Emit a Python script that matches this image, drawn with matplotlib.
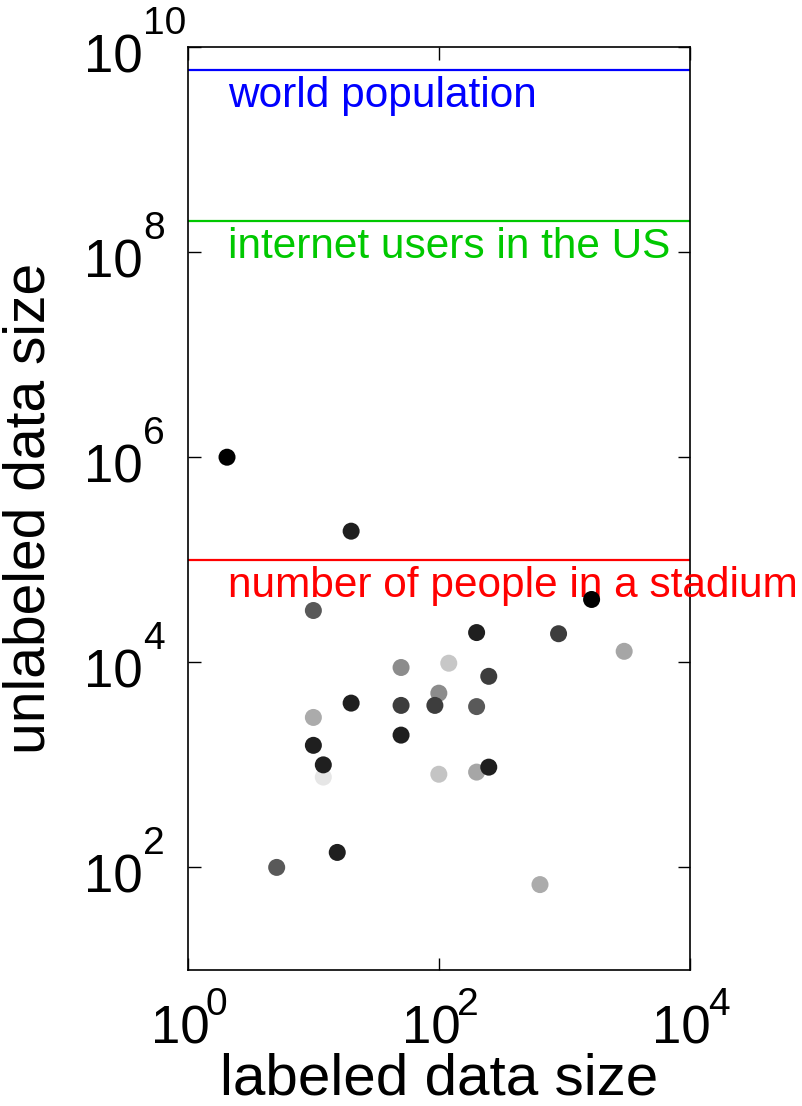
import numpy as np
import matplotlib.pyplot as plt
from matplotlib.ticker import FixedLocator, NullFormatter

plt.rcParams['font.family'] = ['Liberation Sans', 'DejaVu Sans']

# labeled / unlabeled data sizes of the datasets, and the grey level of each point
labeled = [2.05, 20, 1650, 10, 200, 900, 3000, 50, 120, 250, 100, 20, 50, 93, 200,
           10, 50, 10, 12, 12, 100, 200, 250, 15.5, 5.1, 640]
unlabeled = [1.0e6, 1.9e5, 4.1e4, 3.2e4, 1.95e4, 1.9e4, 1.28e4, 8.9e3, 9.8e3, 7.3e3, 5.0e3,
             4.0e3, 3.8e3, 3.8e3, 3.7e3, 2.9e3, 1.95e3, 1.55e3, 760, 1.0e3, 810, 850, 950,
             140, 100, 68]
grey = [0.0, 0.12, 0.0, 0.35, 0.12, 0.24, 0.65, 0.55, 0.78, 0.24, 0.55,
        0.12, 0.24, 0.24, 0.35, 0.67, 0.12, 0.12, 0.9, 0.12, 0.77, 0.65, 0.12,
        0.12, 0.35, 0.67]

# reference sizes drawn as horizontal lines
ref_values = [6e9, 2e8, 1e5]
ref_labels = ['world population', 'internet users in the US', 'number of people in a stadium']
ref_colors = ['#0000ff', '#00c800', '#ff0000']

xticks_exp = [0, 2, 4]
yticks_exp = [2, 4, 6, 8, 10]

fig = plt.figure(figsize=(8.03, 11.06), dpi=100)
ax = fig.add_axes([0.234, 0.123, 0.625, 0.8345])

for v, lab, c in zip(ref_values, ref_labels, ref_colors):
    ax.axhline(v, color=c, lw=1.6)
    ax.annotate(lab, xy=(2.08, v), xytext=(0, -37), textcoords='offset pixels',
                color=c, fontsize=30.5, va='baseline', ha='left', annotation_clip=False)

cols = [(g, g, g) for g in grey]
ax.scatter(labeled, unlabeled, s=150, c=cols, edgecolors='none', zorder=3)

ax.set_xscale('log')
ax.set_yscale('log')
ax.set_xlim(1, 1e4)
ax.set_ylim(10, 1e10)

ax.xaxis.set_major_locator(FixedLocator([10.0 ** e for e in xticks_exp]))
ax.yaxis.set_major_locator(FixedLocator([10.0 ** e for e in yticks_exp]))
ax.xaxis.set_minor_locator(FixedLocator([]))
ax.yaxis.set_minor_locator(FixedLocator([]))
ax.xaxis.set_major_formatter(NullFormatter())
ax.yaxis.set_major_formatter(NullFormatter())
ax.tick_params(direction='in', length=9, width=1, top=True, right=True)
for s in ax.spines.values():
    s.set_linewidth(1.2)

# matlab style tick labels: "10" with a raised exponent
base_fs = 38
sup_fs = 28
for e in xticks_exp:
    ax.annotate('10', xy=(10.0 ** e, 0), xycoords=('data', 'axes fraction'),
                xytext=(-8, -74), textcoords='offset pixels',
                ha='center', va='baseline', fontsize=base_fs, annotation_clip=False)
    ax.annotate(str(e), xy=(10.0 ** e, 0), xycoords=('data', 'axes fraction'),
                xytext=(18, -45), textcoords='offset pixels',
                ha='left', va='baseline', fontsize=sup_fs, annotation_clip=False)
for e in yticks_exp:
    ax.annotate('10', xy=(0, 10.0 ** e), xycoords=('axes fraction', 'data'),
                xytext=(-104, -25), textcoords='offset pixels',
                ha='left', va='baseline', fontsize=base_fs, annotation_clip=False)
    ax.annotate(str(e), xy=(0, 10.0 ** e), xycoords=('axes fraction', 'data'),
                xytext=(-45, 13), textcoords='offset pixels',
                ha='left', va='baseline', fontsize=sup_fs, annotation_clip=False)

ax.set_xlabel('labeled data size', fontsize=42, va='top')
ax.xaxis.set_label_coords(0.5, -0.089)
ax.set_ylabel('unlabeled data size', fontsize=41)
ax.yaxis.set_label_coords(-0.262, 0.5)

fig.savefig('out.png', dpi=100)
